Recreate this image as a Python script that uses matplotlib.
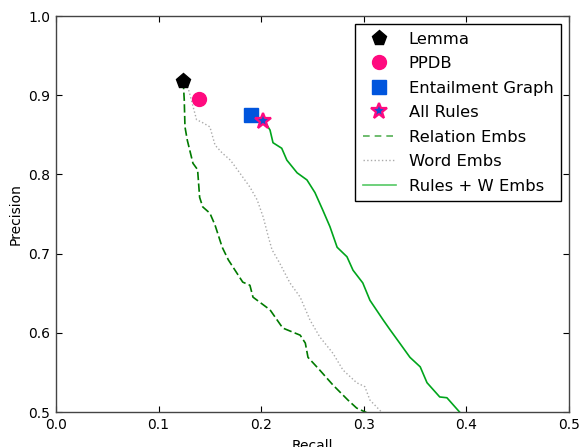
import matplotlib
matplotlib.use("Agg")
import matplotlib.pyplot as plt
from matplotlib.lines import Line2D

# Single-point systems
lemma = (0.124, 0.918)
ppdb = (0.139, 0.895)
ent_graph = (0.190, 0.875)
all_rules = (0.2018, 0.867)

# Curves
rel_recall = [0.124, 0.125, 0.1257, 0.128, 0.1335, 0.138, 0.140, 0.143, 0.150, 0.155,
              0.162, 0.168, 0.1725, 0.182, 0.189, 0.192, 0.2086, 0.221, 0.238, 0.243,
              0.2456, 0.257, 0.270, 0.2846, 0.293, 0.303]
rel_prec = [0.918, 0.894, 0.860, 0.843, 0.814, 0.806, 0.771, 0.759, 0.751, 0.736,
            0.708, 0.692, 0.683, 0.664, 0.660, 0.645, 0.629, 0.606, 0.597, 0.587,
            0.569, 0.553, 0.534, 0.515, 0.505, 0.499]

word_recall = [0.124, 0.128, 0.137, 0.142, 0.150, 0.155, 0.162, 0.170, 0.179, 0.189,
               0.196, 0.202, 0.207, 0.2105, 0.218, 0.228, 0.238, 0.2476, 0.257, 0.270,
               0.2797, 0.293, 0.301, 0.306, 0.318]
word_prec = [0.918, 0.913, 0.869, 0.866, 0.860, 0.837, 0.827, 0.818, 0.802, 0.784,
             0.768, 0.746, 0.721, 0.705, 0.688, 0.663, 0.645, 0.616, 0.595, 0.574,
             0.553, 0.537, 0.532, 0.515, 0.499]

rw_recall = [0.2018, 0.2037, 0.2086, 0.2115, 0.220, 0.225, 0.235, 0.2446, 0.2524, 0.260,
             0.267, 0.274, 0.2836, 0.2895, 0.299, 0.306, 0.319, 0.3255, 0.335, 0.345,
             0.355, 0.3616, 0.374, 0.381, 0.394]
rw_prec = [0.867, 0.866, 0.856, 0.840, 0.833, 0.818, 0.802, 0.793, 0.777, 0.755,
           0.734, 0.708, 0.696, 0.679, 0.663, 0.641, 0.616, 0.604, 0.587, 0.569,
           0.557, 0.537, 0.519, 0.518, 0.499]

xticks = [0.0, 0.1, 0.2, 0.3, 0.4, 0.5]
yticks = [0.5, 0.6, 0.7, 0.8, 0.9, 1.0]

fig = plt.figure(figsize=(5.8, 4.47), dpi=100)
ax = fig.add_axes([56/580, 35/447, 513/580, 396/447])

ax.plot(rel_recall, rel_prec, color="#007a00", linestyle="--", dashes=(5, 2), lw=1.2)
ax.plot(word_recall, word_prec, color="#aaaaaa", linestyle=":", lw=1.0)
ax.plot(rw_recall, rw_prec, color="#00a51c", linestyle="-", lw=1.2)

ax.plot(*lemma, marker="p", color="black", ms=11, linestyle="none")
ax.plot(*ppdb, marker="o", color="#ff0a7f", mec="#ff0a7f", ms=10, linestyle="none")
ax.plot(*ent_graph, marker="s", color="#0055dd", mec="#0055dd", ms=10, linestyle="none")
ax.plot(*all_rules, marker="*", mfc="#1550d0", mec="#ff0a7f", mew=1.6, ms=12, linestyle="none")

handles = [
    Line2D([], [], marker="p", color="black", ms=11, linestyle="none"),
    Line2D([], [], marker="o", color="#ff0a7f", ms=10, linestyle="none"),
    Line2D([], [], marker="s", color="#0055dd", ms=10, linestyle="none"),
    Line2D([], [], marker="*", mfc="#1550d0", mec="#ff0a7f", mew=1.6, ms=12, linestyle="none"),
    Line2D([], [], color="#55b055", linestyle="--", dashes=(4, 3), lw=1.2),
    Line2D([], [], color="#aaaaaa", linestyle=":", lw=1.0),
    Line2D([], [], color="#55c865", linestyle="-", lw=1.2),
]
labels = ["Lemma", "PPDB", "Entailment Graph", "All Rules",
          "Relation Embs", "Word Embs", "Rules + W Embs"]
leg = ax.legend(handles, labels, loc="upper right", fontsize=11.8, numpoints=1,
                fancybox=False, framealpha=1, edgecolor="black", handlelength=2.0,
                borderaxespad=0.5, labelspacing=0.58, borderpad=0.45)
leg.get_frame().set_linewidth(1.0)

ax.set_xlim(0.0, 0.5)
ax.set_ylim(0.5, 1.0)
ax.set_xticks(xticks)
ax.set_yticks(yticks)
ax.set_xticklabels([f"{v:.1f}" for v in xticks], fontsize=10)
ax.set_yticklabels([f"{v:.1f}" for v in yticks], fontsize=10)
ax.tick_params(direction="in", top=True, right=True, length=4, width=0.8, pad=4)
for s in ax.spines.values():
    s.set_color("#444444")
    s.set_linewidth(1.0)
ax.set_xlabel("Recall", fontsize=10, labelpad=5)
ax.set_ylabel("Precision", fontsize=10, labelpad=4)

fig.savefig("out.png", dpi=100, facecolor="white")
